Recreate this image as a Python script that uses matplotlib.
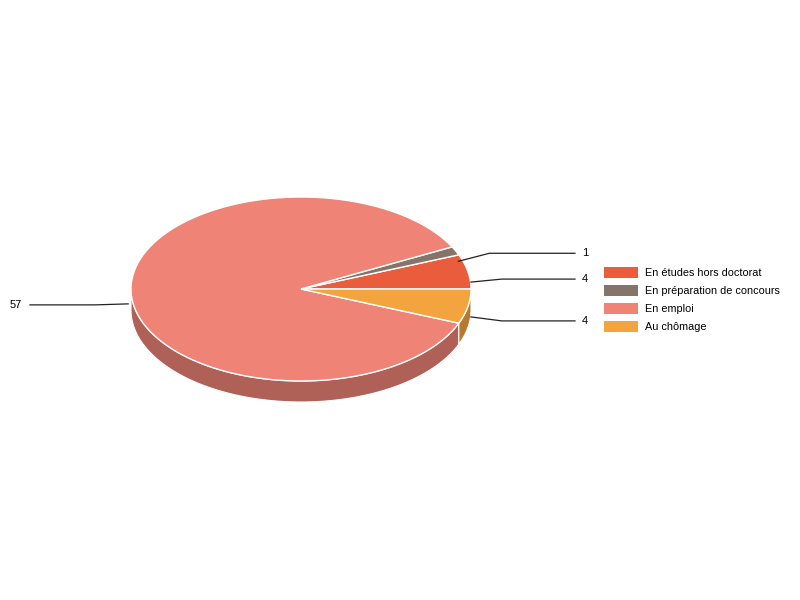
import numpy as np
import matplotlib
matplotlib.use("Agg")
import matplotlib.pyplot as plt
from matplotlib.patches import Polygon, Rectangle

plt.rcParams["font.family"] = ["Liberation Sans", "DejaVu Sans"]

# données
categories = ["En études hors doctorat", "En préparation de concours", "En emploi", "Au chômage"]
values = [4, 1, 57, 4]
colors = ["#E95D3C", "#85746A", "#EE8376", "#F4A43F"]

# géométrie du camembert 3D (pixels)
CX, CY = 301, 289
RX, RY = 170, 92
DEPTH = 21

# placement des étiquettes (décalage vertical du texte par rapport à l'ancre)
LABEL_DY = [-3, -8, 1, 4]
LABEL_ELBOW = 31


def darker(hexcol, f=0.74):
    c = matplotlib.colors.to_rgb(hexcol)
    return tuple(v * f for v in c)


def arc(a0, a1, dy=0, n=120):
    t = np.radians(np.linspace(a0, a1, n))
    return np.column_stack([CX + RX * np.cos(t), CY - RY * np.sin(t) + dy])


fig = plt.figure(figsize=(8, 6), dpi=100)
ax = fig.add_axes([0, 0, 1, 1])
ax.set_xlim(0, 800)
ax.set_ylim(600, 0)
ax.axis("off")

total = float(sum(values))
angles = np.concatenate([[0], np.cumsum(values) / total * 360.0])

# côtés (moitié avant seulement : 180..360)
for i in range(len(values)):
    a0, a1 = angles[i], angles[i + 1]
    s0, s1 = max(a0, 180), min(a1, 360)
    if s1 <= s0:
        continue
    top = arc(s0, s1)
    bot = arc(s1, s0, dy=DEPTH)
    ax.add_patch(Polygon(np.vstack([top, bot]), closed=True,
                         facecolor=darker(colors[i]), edgecolor="white", lw=0.8))

# faces supérieures
for i in range(len(values)):
    a0, a1 = angles[i], angles[i + 1]
    pts = np.vstack([[CX, CY], arc(a0, a1)])
    ax.add_patch(Polygon(pts, closed=True, facecolor=colors[i],
                         edgecolor="white", lw=1.0))

# étiquettes avec lignes de rappel
for i, v in enumerate(values):
    mid = np.radians((angles[i] + angles[i + 1]) / 2)
    axp = CX + (RX + 3) * np.cos(mid)
    ayp = CY - RY * np.sin(mid) + DEPTH / 2
    ty = ayp + LABEL_DY[i]
    if np.cos(mid) >= 0:
        ex = axp + LABEL_ELBOW
        ax.plot([axp, ex, 575], [ayp, ty, ty], color="#222222", lw=0.9)
        ax.text(582, ty, str(v), ha="left", va="center", fontsize=8)
    else:
        ex = axp - 33
        ax.plot([axp, ex, 30], [ayp, ty, ty], color="#222222", lw=0.9)
        ax.text(22, ty, str(v), ha="right", va="center", fontsize=8)

# légende
for i, name in enumerate(categories):
    y = 267 + i * 18
    ax.add_patch(Rectangle((604, y), 34, 11, facecolor=colors[i], edgecolor="none"))
    ax.text(645, y + 5.5, name, ha="left", va="center", fontsize=7.8)

fig.savefig("out.png", dpi=100)
